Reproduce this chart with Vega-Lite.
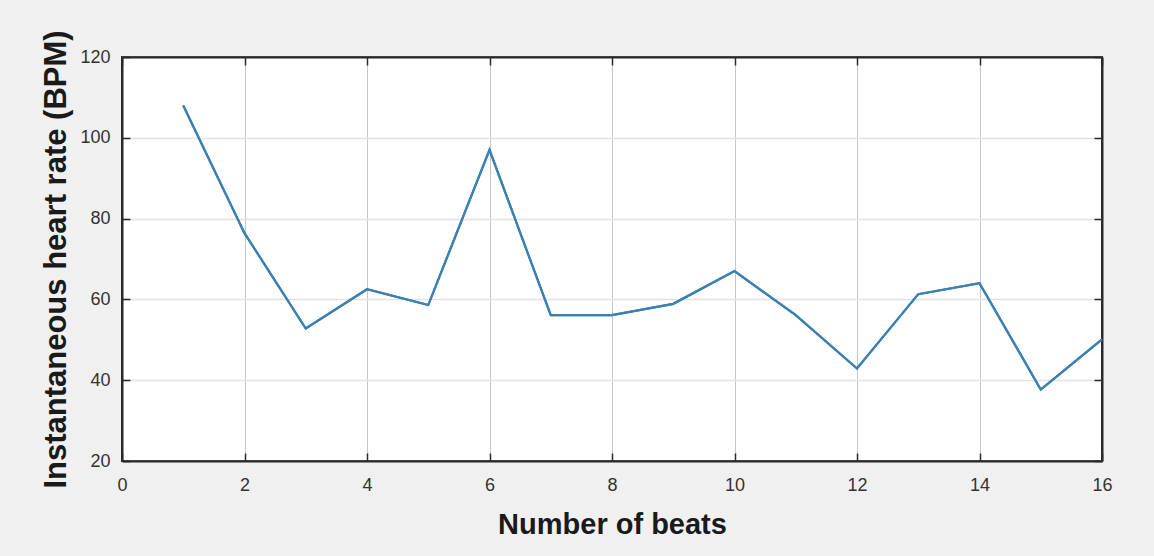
{
  "$schema": "https://vega.github.io/schema/vega-lite/v6.json",
  "width": 980,
  "height": 404,
  "autosize": {"type": "none"},
  "padding": {"left": 122, "top": 57, "right": 52, "bottom": 95},
  "background": "#f0f0f0",
  "config": {
    "view": {"fill": "#ffffff", "stroke": "#2a2a2a", "strokeWidth": 2},
    "axis": {
      "labelFont": "Liberation Sans",
      "labelFontSize": 18,
      "labelColor": "#333333",
      "labelFlush": false,
      "titleFont": "Liberation Sans",
      "titleFontWeight": "bold",
      "titleColor": "#1a1a1a",
      "domainColor": "#2a2a2a",
      "domainWidth": 2,
      "tickColor": "#2a2a2a",
      "tickWidth": 1.5,
      "tickSize": -8
    }
  },
  "data": {
    "values": [
      {"beat": 1, "bpm": 108.0},
      {"beat": 2, "bpm": 76.4},
      {"beat": 3, "bpm": 52.8},
      {"beat": 4, "bpm": 62.5},
      {"beat": 5, "bpm": 58.6},
      {"beat": 6, "bpm": 97.0},
      {"beat": 7, "bpm": 56.1},
      {"beat": 8, "bpm": 56.1},
      {"beat": 9, "bpm": 58.9},
      {"beat": 10, "bpm": 67.0},
      {"beat": 11, "bpm": 56.1},
      {"beat": 12, "bpm": 42.9},
      {"beat": 13, "bpm": 61.3},
      {"beat": 14, "bpm": 64.0},
      {"beat": 15, "bpm": 37.7},
      {"beat": 16, "bpm": 50.1}
    ]
  },
  "layer": [
    {
      "mark": {"type": "line", "color": "#3b80b2", "strokeWidth": 2.2},
      "encoding": {
        "x": {
          "field": "beat",
          "type": "quantitative",
          "scale": {"domain": [0, 16], "nice": false, "zero": false},
          "axis": {
            "orient": "bottom",
            "values": [0, 2, 4, 6, 8, 10, 12, 14, 16],
            "title": "Number of beats",
            "titleFontSize": 29,
            "titleX": 490,
            "titleY": 72,
            "titleAlign": "center",
            "titleBaseline": "alphabetic",
            "labelFontSize": 18,
            "labelPadding": 23,
            "labelFlush": false,
            "grid": true,
            "gridColor": "#c6c6c6",
            "gridWidth": 1
          }
        },
        "y": {
          "field": "bpm",
          "type": "quantitative",
          "scale": {"domain": [20, 120], "nice": false, "zero": false},
          "axis": {
            "orient": "left",
            "values": [20, 40, 60, 80, 100, 120],
            "title": "Instantaneous heart rate (BPM)",
            "titleFontSize": 31,
            "titleAngle": -90,
            "titleX": -66,
            "titleY": 202,
            "titleAlign": "center",
            "titleBaseline": "middle",
            "labelFontSize": 18,
            "labelPadding": 20,
            "labelFlush": false,
            "grid": true,
            "gridColor": "#e2e2e2",
            "gridWidth": 1.5
          }
        }
      }
    },
    {
      "mark": {"type": "line", "color": "#3b80b2", "strokeWidth": 2.2},
      "encoding": {
        "x": {
          "field": "beat",
          "type": "quantitative",
          "axis": {
            "orient": "top",
            "values": [0, 2, 4, 6, 8, 10, 12, 14, 16],
            "labels": false,
            "title": null,
            "grid": false
          }
        },
        "y": {
          "field": "bpm",
          "type": "quantitative",
          "axis": {
            "orient": "right",
            "values": [20, 40, 60, 80, 100, 120],
            "labels": false,
            "title": null,
            "grid": false
          }
        }
      }
    }
  ],
  "resolve": {"axis": {"x": "independent", "y": "independent"}}
}
